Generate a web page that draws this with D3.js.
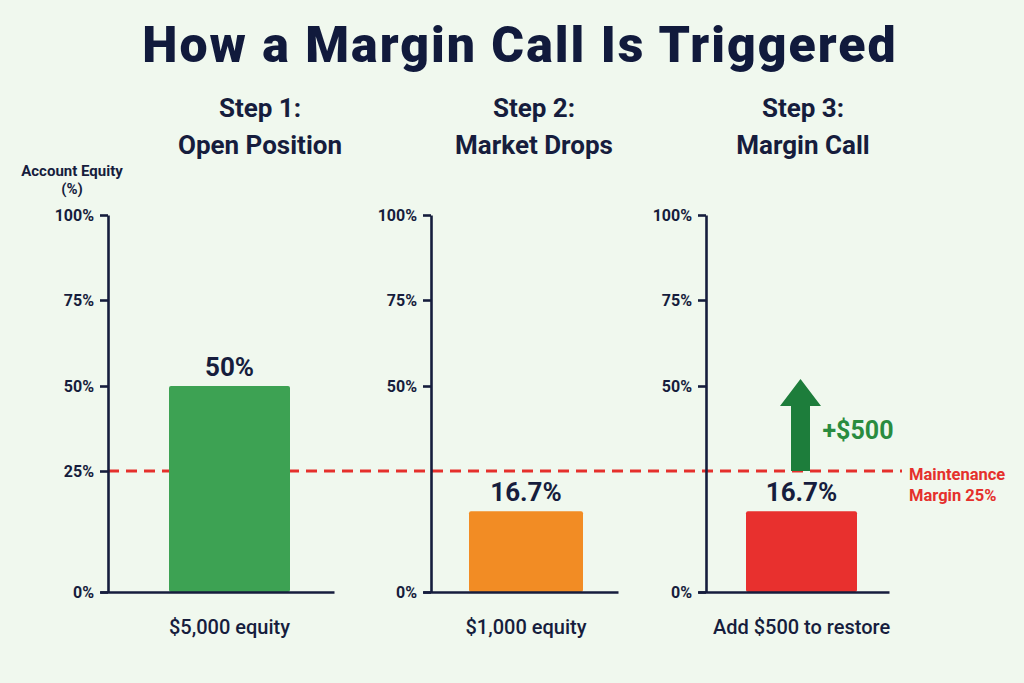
<!DOCTYPE html>
<html>
<head>
<meta charset="utf-8">
<script src="https://cdn.jsdelivr.net/npm/d3@7"></script>
<style>
  body { margin: 0; background: #f0f8ee; }
  svg { display: block; }
  text { font-family: Roboto, "Liberation Sans", sans-serif; fill: #161d3d; }
  .axis path, .axis line { stroke: #161d3d; stroke-width: 2.6; }
  .axis text { font-size: 16px; font-weight: 700; fill: #161d3d; }
</style>
</head>
<body>
<script>
// data
const stepTitles = ['Step 1:', 'Step 2:', 'Step 3:'];
const stepNames = ['Open Position', 'Market Drops', 'Margin Call'];
const equityPct = [50, 16.7, 16.7];
const valueLabels = ['50%', '16.7%', '16.7%'];
const bottomLabels = ['$5,000 equity', '$1,000 equity', 'Add $500 to restore'];
const barColors = ['#3da253', '#f28c24', '#e8302e'];
const tickValues = [0, 25, 50, 75, 100];
const tickValuesLater = [0, 50, 75, 100]; // steps 2 and 3 skip the 25% label
const maintenance = 25;
const arrowFrom = 25, arrowTo = 52; // deposit arrow, % scale
const arrowLabel = '+$500';

const width = 1024, height = 683;

// panel layout (pixels)
const panels = [
  {axisX: 108, right: 334, bar: [169, 290]},
  {axisX: 431, right: 618, bar: [469, 583]},
  {axisX: 706, right: 889, bar: [746, 857]}
];
const headCenters = [260, 534, 803];

// the equity axis is not evenly spaced: 0-25 is stretched
const y = d3.scaleLinear()
  .domain(tickValues)
  .range([592, 471, 386, 300, 215]);

const svg = d3.select('body').append('svg')
  .attr('width', width)
  .attr('height', height);

svg.append('rect').attr('width', width).attr('height', height).attr('fill', '#f0f8ee');

svg.append('text')
  .attr('x', width / 2 + 8).attr('y', 62)
  .attr('text-anchor', 'middle')
  .style('font-size', '50px').style('font-weight', 900)
  .style('letter-spacing', '2px')
  .style('fill', '#111a3c')
  .text('How a Margin Call Is Triggered');

svg.append('text')
  .attr('x', 72).attr('y', 176)
  .attr('text-anchor', 'middle')
  .style('font-size', '15px').style('font-weight', 700)
  .selectAll('tspan')
  .data(['Account Equity', '(%)'])
  .enter().append('tspan')
  .attr('x', 72).attr('dy', (d, i) => i ? 18 : 0)
  .text(d => d);

// maintenance line across all panels
svg.append('line')
  .attr('x1', panels[0].axisX).attr('x2', 902)
  .attr('y1', y(maintenance)).attr('y2', y(maintenance))
  .attr('stroke', '#e5302c').attr('stroke-width', 3)
  .attr('stroke-dasharray', '11,7');

panels.forEach((p, i) => {
  const g = svg.append('g');

  const x = d3.scaleBand()
    .domain([stepNames[i]])
    .range(p.bar)
    .padding(0);

  // step heading
  g.append('text')
    .attr('x', headCenters[i]).attr('y', 117)
    .attr('text-anchor', 'middle')
    .style('font-size', '26px').style('font-weight', 700)
    .text(stepTitles[i]);
  g.append('text')
    .attr('x', headCenters[i]).attr('y', 154)
    .attr('text-anchor', 'middle')
    .style('font-size', '26px').style('font-weight', 700)
    .text(stepNames[i]);

  // bar
  g.append('rect')
    .attr('x', x(stepNames[i]))
    .attr('y', y(equityPct[i]))
    .attr('width', x.bandwidth())
    .attr('height', y(0) - y(equityPct[i]))
    .attr('rx', 2)
    .attr('fill', barColors[i]);

  g.append('text')
    .attr('x', x(stepNames[i]) + x.bandwidth() / 2)
    .attr('y', y(equityPct[i]) - 10)
    .attr('text-anchor', 'middle')
    .style('font-size', '26px').style('font-weight', 700)
    .text(valueLabels[i]);

  g.append('text')
    .attr('x', x(stepNames[i]) + x.bandwidth() / 2)
    .attr('y', 634)
    .attr('text-anchor', 'middle')
    .style('font-size', '20px').style('font-weight', 500)
    .text(bottomLabels[i]);

  // axes
  g.append('g').attr('class', 'axis')
    .attr('transform', `translate(${p.axisX},0)`)
    .call(d3.axisLeft(y).tickValues(i === 0 ? tickValues : tickValuesLater)
      .tickSize(8).tickSizeOuter(0).tickPadding(6)
      .tickFormat(d => d + '%'));

  const xb = d3.scaleLinear().range([p.axisX - 8, p.right]);
  g.append('g').attr('class', 'axis')
    .attr('transform', `translate(0,${y(0)})`)
    .call(d3.axisBottom(xb).ticks(0).tickSizeOuter(0));

  // deposit arrow on the margin call panel
  if (i === 2) {
    const cx = x(stepNames[i]) + x.bandwidth() / 2 - 1;
    const sw = 9.5, hw = 20.5;
    const yBase = y(arrowFrom), yTip = y(arrowTo), yHead = yTip + 27;
    g.append('path')
      .attr('d', d3.line()([
        [cx - sw, yBase], [cx - sw, yHead], [cx - hw, yHead], [cx, yTip],
        [cx + hw, yHead], [cx + sw, yHead], [cx + sw, yBase]
      ]) + 'Z')
      .attr('fill', '#1d7d3b');
    g.append('text')
      .attr('x', cx + 22).attr('y', 439)
      .style('font-size', '25px').style('font-weight', 700)
      .style('fill', '#2a8c3f')
      .text(arrowLabel);
  }
});

svg.append('text')
  .attr('x', 909).attr('y', 480)
  .style('font-size', '16.5px').style('font-weight', 700)
  .style('fill', '#e5302c')
  .selectAll('tspan')
  .data(['Maintenance', 'Margin 25%'])
  .enter().append('tspan')
  .attr('x', 909).attr('dy', (d, i) => i ? 21 : 0)
  .style('fill', '#e5302c')
  .text(d => d);
</script>
</body>
</html>
